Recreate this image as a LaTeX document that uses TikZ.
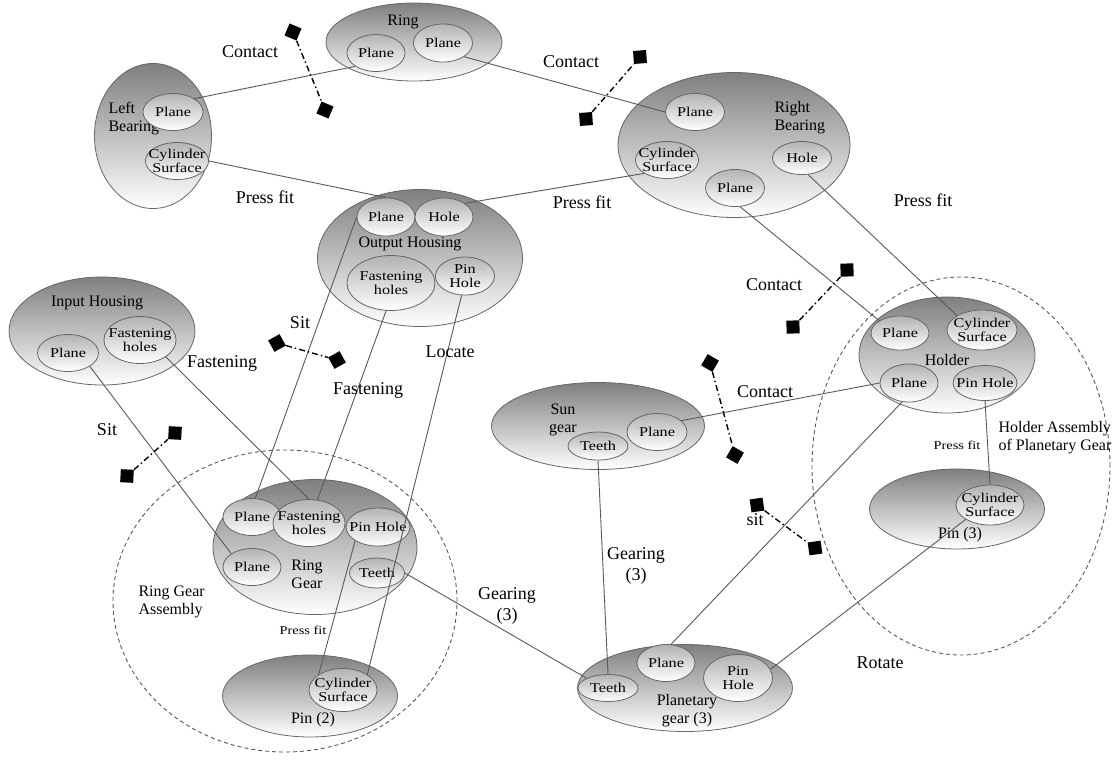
\documentclass[tikz,border=0pt]{standalone}
\usepackage{fontspec}
\setmainfont{Liberation Serif}
\newfontfamily\facefont[FakeStretch=1.2]{Liberation Serif}
\usetikzlibrary{shapes.geometric}

% pair of blocking squares joined by a dash-dot line
\newcommand{\stopmark}[4]{%
  \node[stopper, rotate=#4] (#1a) at (#2) {};
  \node[stopper, rotate=#4] (#1b) at (#3) {};
  \draw[stopline] (#1a) -- (#1b);
}

\begin{document}
\begin{tikzpicture}[x=1pt, y=-1pt,
  part/.style={ellipse, draw=black!60, line width=0.8pt, top color=black!50, bottom color=white, inner sep=0pt},
  face/.style={ellipse, draw=black!60, line width=0.8pt, top color=black!30, bottom color=white, inner sep=-6pt, align=center, font=\facefont\fontsize{13.5}{14}\selectfont},
  ptitle/.style={align=center, font=\fontsize{16}{18}\selectfont},
  rel/.style={align=center, font=\fontsize{18}{21}\selectfont},
  tiny/.style={font=\facefont\fontsize{12}{13}\selectfont},
  assy/.style={ellipse, draw=black!65, line width=0.9pt, dash pattern=on 4pt off 3pt, inner sep=0pt},
  link/.style={draw=black!65, line width=0.9pt},
  stopper/.style={fill=black, minimum size=13pt, inner sep=0pt},
  stopline/.style={draw=black, line width=1.4pt, dash pattern=on 6pt off 3pt on 1.5pt off 3pt}]

  \useasboundingbox (0,0) rectangle (1114,761);

  % Assemblies
  \node[assy, minimum width=344, minimum height=302] (rgAssy) at (285,601) {};
  \node[assy, minimum width=298, minimum height=378] (hAssy) at (961,466) {};

  % Parts
  \node[part, minimum width=176, minimum height=78] (ring) at (414,42) {};
  \node[part, minimum width=117, minimum height=145] (lbear) at (153,136) {};
  \node[part, minimum width=232, minimum height=145] (rbear) at (734,145) {};
  \node[part, minimum width=205, minimum height=137] (ohous) at (420,258) {};
  \node[part, minimum width=186, minimum height=108] (ihous) at (102,331) {};
  \node[part, minimum width=204, minimum height=135] (rgear) at (315,547) {};
  \node[part, minimum width=175, minimum height=82] (pin2) at (310,696) {};
  \node[part, minimum width=213, minimum height=87] (sgear) at (598,426) {};
  \node[part, minimum width=176, minimum height=116] (holder) at (947,355) {};
  \node[part, minimum width=175, minimum height=80] (pin3) at (957,509) {};
  \node[part, minimum width=215, minimum height=87] (pgear) at (685,688) {};

  % Part names
  \node[ptitle] (ringT) at (403,22) {Ring};
  \node[ptitle, align=left, anchor=west] (lbearT) at (105,119) {Left\\Bearing};
  \node[ptitle, align=left, anchor=west] (rbearT) at (771,118) {Right\\Bearing};
  \node[ptitle] (ohousT) at (410,244) {Output Housing};
  \node[ptitle] (ihousT) at (97,303) {Input Housing};
  \node[ptitle] (rgearT) at (307,574) {Ring\\Gear};
  \node[ptitle] (pin2T) at (313,720) {Pin (2)};
  \node[ptitle] (sgearT) at (563,420) {Sun\\gear};
  \node[ptitle] (holderT) at (947,360) {Holder};
  \node[ptitle] (pin3T) at (960,535) {Pin (3)};
  \node[ptitle] (pgearT) at (687,711) {Planetary\\gear (3)};
  \node[ptitle, align=left, anchor=west] (rgAssyT) at (135,602) {Ring Gear\\Assembly};
  \node[ptitle, align=left, anchor=west] (hAssyT) at (995,438) {Holder Assembly\\of Planetary Gear};

  % Faces
  \node[face, minimum width=58, minimum height=37] (ringPlaneA) at (376,53) {Plane};
  \node[face, minimum width=59, minimum height=38] (ringPlaneB) at (443,43) {Plane};
  \node[face, minimum width=60, minimum height=37] (lbPlane) at (173,112) {Plane};
  \node[face, minimum width=62, minimum height=37] (lbCyl) at (177,161) {Cylinder\\Surface};
  \node[face, minimum width=59, minimum height=37] (rbPlaneA) at (695,112) {Plane};
  \node[face, minimum width=60, minimum height=37] (rbCyl) at (667,160) {Cylinder\\Surface};
  \node[face, minimum width=59, minimum height=37] (rbPlaneB) at (735,188) {Plane};
  \node[face, minimum width=59, minimum height=33] (rbHole) at (802,158) {Hole};
  \node[face, minimum width=58, minimum height=38] (ohPlane) at (386,217) {Plane};
  \node[face, minimum width=58, minimum height=38] (ohHole) at (444,217) {Hole};
  \node[face, minimum width=88, minimum height=55] (ohFast) at (391,283) {Fastening\\holes};
  \node[face, minimum width=59, minimum height=38] (ohPin) at (465,276) {Pin\\Hole};
  \node[face, minimum width=61, minimum height=37] (ihPlane) at (68,353) {Plane};
  \node[face, minimum width=70, minimum height=47] (ihFast) at (140,340) {Fastening\\holes};
  \node[face, minimum width=58, minimum height=37] (rgPlaneA) at (252,517) {Plane};
  \node[face, minimum width=68, minimum height=47] (rgFast) at (309,523) {Fastening\\holes};
  \node[face, minimum width=58, minimum height=38] (rgPin) at (378,527) {Pin Hole};
  \node[face, minimum width=58, minimum height=37] (rgPlaneB) at (252,567) {Plane};
  \node[face, minimum width=55, minimum height=30] (rgTeeth) at (377,573) {Teeth};
  \node[face, minimum width=68, minimum height=43] (p2Cyl) at (343,690) {Cylinder\\Surface};
  \node[face, minimum width=60, minimum height=37] (sgPlane) at (657,432) {Plane};
  \node[face, minimum width=60, minimum height=28] (sgTeeth) at (598,446) {Teeth};
  \node[face, minimum width=58, minimum height=34] (hPlaneA) at (900,333) {Plane};
  \node[face, minimum width=70, minimum height=40] (hCyl) at (982,330) {Cylinder\\Surface};
  \node[face, minimum width=58, minimum height=38] (hPlaneB) at (909,383) {Plane};
  \node[face, minimum width=60, minimum height=35] (hPin) at (985,383) {Pin Hole};
  \node[face, minimum width=68, minimum height=40] (p3Cyl) at (990,505) {Cylinder\\Surface};
  \node[face, minimum width=60, minimum height=27] (pgTeeth) at (608,688) {Teeth};
  \node[face, minimum width=58, minimum height=37] (pgPlane) at (666,663) {Plane};
  \node[face, minimum width=69, minimum height=47] (pgPin) at (738,678) {Pin\\Hole};

  % Relations
  \draw[link] (lbPlane.north east) -- (ringPlaneA.south west);
  \draw[link] (ringPlaneB.south east) -- (rbPlaneA.west);
  \draw[link] (lbCyl.east) -- (ohPlane.north);
  \draw[link] (rbCyl.south west) -- (ohHole.north east);
  \draw[link] (rbPlaneB.-75) -- (hPlaneA.north west);
  \draw[link] (rbHole.-70) -- (hCyl.north west);
  \draw[link] (ohPlane.west) -- (rgPlaneA.80);
  \draw[link] (ohFast.-100) -- (rgFast.70);
  \draw[link] (ohPin.-100) -- (p2Cyl.north east);
  \draw[link] (ihPlane.south east) -- (rgPlaneB.north west);
  \draw[link] (ihFast.south east) -- (rgFast.north);
  \draw[link] (rgPin.south west) -- (p2Cyl.north west);
  \draw[link] (rgTeeth.east) -- (pgTeeth.north west);
  \draw[link] (sgTeeth.south) -- (pgTeeth.north);
  \draw[link] (sgPlane.25) -- (hPlaneB.west);
  \draw[link] (hPlaneB.-110) -- (pgPlane.75);
  \draw[link] (hPin.south) -- (p3Cyl.north);
  \draw[link] (p3Cyl.south west) -- (pgPin.15);

  % Relation names
  \node[rel] (relA) at (250,52) {Contact};
  \node[rel] (relB) at (571,62) {Contact};
  \node[rel] (relC) at (265,197) {Press fit};
  \node[rel] (relD) at (582,202) {Press fit};
  \node[rel] (relE) at (923,200) {Press fit};
  \node[rel] (relF) at (774,285) {Contact};
  \node[rel] (relG) at (300,323) {Sit};
  \node[rel] (relH) at (222,363) {Fastening};
  \node[rel] (relI) at (368,390) {Fastening};
  \node[rel] (relJ) at (450,352) {Locate};
  \node[rel] (relK) at (107,430) {Sit};
  \node[rel] (relL) at (765,392) {Contact};
  \node[rel] (relM) at (507,606) {Gearing\\(3)};
  \node[rel] (relN) at (636,566) {Gearing\\(3)};
  \node[rel] (relO) at (755,520) {sit};
  \node[rel] (relP) at (880,663) {Rotate};
  \node[tiny] (relQ) at (303,630) {Press fit};
  \node[tiny] (relR) at (957,445) {Press fit};

  % Blocked motions
  \stopmark{sa}{293,32}{325,110}{-23}
  \stopmark{sb}{586,119}{640,57}{4}
  \stopmark{sc}{277,343}{337,360}{29}
  \stopmark{sd}{127,476}{175,433}{-3}
  \stopmark{se}{793,327}{847,270}{2}
  \stopmark{sf}{710,363}{735,455}{-30}
  \stopmark{sg}{757,505}{815,548}{8}
\end{tikzpicture}
\end{document}
